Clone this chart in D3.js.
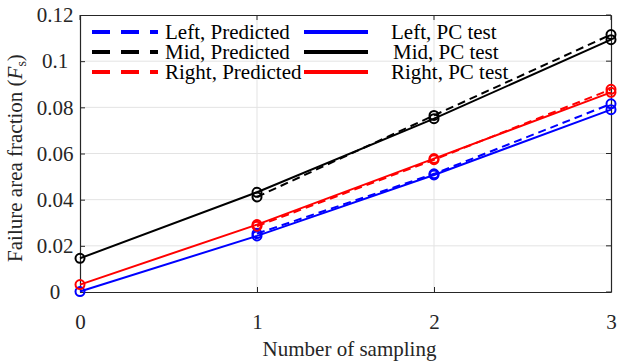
<!DOCTYPE html>
<html>
<head>
<meta charset="utf-8">
<script src="https://cdn.jsdelivr.net/npm/d3@7"></script>
<style>
  @font-face { font-family: "ChartSerif"; src: local("Liberation Serif"), local("LiberationSerif-Regular"); font-style: normal; }
  @font-face { font-family: "ChartSerif"; src: local("Liberation Serif Italic"), local("LiberationSerif-Italic"); font-style: italic; }
  body { margin: 0; background: #fff; font-family: "Liberation Serif", "ChartSerif"; }
  svg text, svg tspan { font-family: "Liberation Serif", "ChartSerif" !important; }
</style>
</head>
<body>
<div id="chart"></div>
<script>
// data
var samples = [0, 1, 2, 3];
var predSamples = [1, 2, 3];
var leftTest = [0.0002, 0.0243, 0.0507, 0.079];
var midTest = [0.0146, 0.0432, 0.0751, 0.1093];
var rightTest = [0.0032, 0.0292, 0.0578, 0.0865];
var leftPred = [0.0253, 0.0512, 0.0815];
var midPred = [0.0412, 0.0765, 0.1115];
var rightPred = [0.0285, 0.0573, 0.0878];
var xTicks = [0, 1, 2, 3];
var yTicks = [0, 0.02, 0.04, 0.06, 0.08, 0.1, 0.12];

var seriesNames = ["Left", "Mid", "Right"];
var seriesColors = ["#0000ff", "#000000", "#ff0000"];

var font = "Liberation Serif";

// setting the dimensions and margins of the chart
var margin = {top: 15, right: 7, bottom: 70, left: 80},
    width = 618 - margin.left - margin.right,
    height = 362 - margin.top - margin.bottom;

var root = d3.select("#chart").append("svg")
    .attr("width", 618)
    .attr("height", 362)
    .attr("font-family", font);
var svg = root.append("g")
    .attr("transform", "translate(" + margin.left + "," + margin.top + ")");

var x = d3.scaleLinear().domain([0, 3]).range([0, width]);
var y = d3.scaleLinear().domain([0, 0.12]).range([height, 0]);

// grid
svg.append("g").selectAll("line")
    .data(xTicks.slice(1, -1))
  .enter().append("line")
    .attr("x1", function(d) { return x(d); })
    .attr("x2", function(d) { return x(d); })
    .attr("y1", 0).attr("y2", height)
    .attr("stroke", "#e3e3e3").attr("stroke-width", 1);
svg.append("g").selectAll("line")
    .data(yTicks.slice(1, -1))
  .enter().append("line")
    .attr("y1", function(d) { return y(d); })
    .attr("y2", function(d) { return y(d); })
    .attr("x1", 0).attr("x2", width)
    .attr("stroke", "#e3e3e3").attr("stroke-width", 1);

// axes (ticks inside, box all round)
var xAxis = svg.append("g")
    .attr("transform", "translate(0," + height + ")")
    .call(d3.axisBottom(x).tickValues(xTicks).tickFormat(d3.format("d"))
      .tickSizeInner(-5).tickSizeOuter(0).tickPadding(22));
svg.append("g")
    .call(d3.axisTop(x).tickValues(xTicks).tickSize(0).tickFormat(""))
    .selectAll(".tick").remove();
var yAxis = svg.append("g")
    .call(d3.axisLeft(y).tickValues(yTicks).tickFormat(function(d) { return String(+d.toFixed(2)); })
      .tickSizeInner(-5).tickSizeOuter(0).tickPadding(25));
yAxis.selectAll(".tick text").attr("text-anchor", "middle");
svg.append("g")
    .attr("transform", "translate(" + width + ",0)")
    .call(d3.axisRight(y).tickValues(yTicks).tickSize(0).tickFormat(""))
    .selectAll(".tick").remove();

// top and right tick marks
svg.append("g").selectAll("line")
    .data(xTicks)
  .enter().append("line")
    .attr("x1", function(d) { return x(d); })
    .attr("x2", function(d) { return x(d); })
    .attr("y1", 0).attr("y2", 5)
    .attr("stroke", "#262626");
svg.append("g").selectAll("line")
    .data(yTicks)
  .enter().append("line")
    .attr("y1", function(d) { return y(d); })
    .attr("y2", function(d) { return y(d); })
    .attr("x1", width - 5).attr("x2", width)
    .attr("stroke", "#262626");

svg.selectAll("g").attr("font-family", font);
svg.selectAll(".domain").attr("stroke", "#262626").attr("stroke-width", 1.2);
svg.selectAll(".tick line").attr("stroke", "#262626");
svg.selectAll(".tick text")
    .attr("font-size", 21)
    .attr("font-family", font)
    .attr("fill", "#262626");

// adding x axis label
svg.append("text")
    .attr("x", 349.5 - margin.left)
    .attr("y", height + 64)
    .attr("font-size", 21)
    .attr("font-family", font)
    .attr("text-anchor", "middle")
    .attr("fill", "#262626")
    .text("Number of sampling");

// adding y axis label
var yLabel = svg.append("text")
    .attr("transform", "translate(-58," + (158 - margin.top) + ") rotate(-90)")
    .attr("font-size", 21)
    .attr("font-family", font)
    .attr("text-anchor", "middle")
    .attr("fill", "#262626");
yLabel.append("tspan").text("Failure area fraction (");
yLabel.append("tspan").attr("font-style", "italic").text("F");
yLabel.append("tspan").attr("font-size", 14).attr("dy", 4).text("s");
yLabel.append("tspan").attr("dy", -4).text(")");

// lines
var line = d3.line()
    .x(function(d) { return x(d[0]); })
    .y(function(d) { return y(d[1]); });

var testData = [leftTest, midTest, rightTest];
var predData = [leftPred, midPred, rightPred];

function drawSeries(xs, vals, color, dash) {
  var pts = xs.map(function(s, j) { return [s, vals[j]]; });
  svg.append("path")
      .datum(pts)
      .attr("d", line)
      .attr("fill", "none")
      .attr("stroke", color)
      .attr("stroke-width", 2)
      .attr("stroke-dasharray", dash);
  svg.append("g").selectAll("circle")
      .data(pts)
    .enter().append("circle")
      .attr("cx", function(d) { return x(d[0]); })
      .attr("cy", function(d) { return y(d[1]); })
      .attr("r", 4.5)
      .attr("fill", "none")
      .attr("stroke", color)
      .attr("stroke-width", 2);
}

testData.forEach(function(vals, i) { drawSeries(samples, vals, seriesColors[i], null); });
predData.forEach(function(vals, i) { drawSeries(predSamples, vals, seriesColors[i], "8,5"); });

// legend, two columns
var legend = svg.append("g").attr("font-family", font);
seriesNames.forEach(function(name, i) {
  var ly = 17 + i * 20;
  legend.append("line")
      .attr("x1", 12).attr("x2", 78)
      .attr("y1", ly).attr("y2", ly)
      .attr("stroke", seriesColors[i])
      .attr("stroke-width", 4)
      .attr("stroke-dasharray", "18,11");
  legend.append("text")
      .attr("x", 85).attr("y", ly + 7)
      .attr("font-size", 21)
      .attr("font-family", font)
      .attr("fill", "#000")
      .text(name + ", Predicted");
  legend.append("line")
      .attr("x1", 224).attr("x2", 288)
      .attr("y1", ly).attr("y2", ly)
      .attr("stroke", seriesColors[i])
      .attr("stroke-width", 4);
  legend.append("text")
      .attr("x", i == 1 ? 313 : 311).attr("y", ly + 7)
      .attr("font-size", 21)
      .attr("font-family", font)
      .attr("fill", "#000")
      .text(name + ", PC test");
});
</script>
</body>
</html>
